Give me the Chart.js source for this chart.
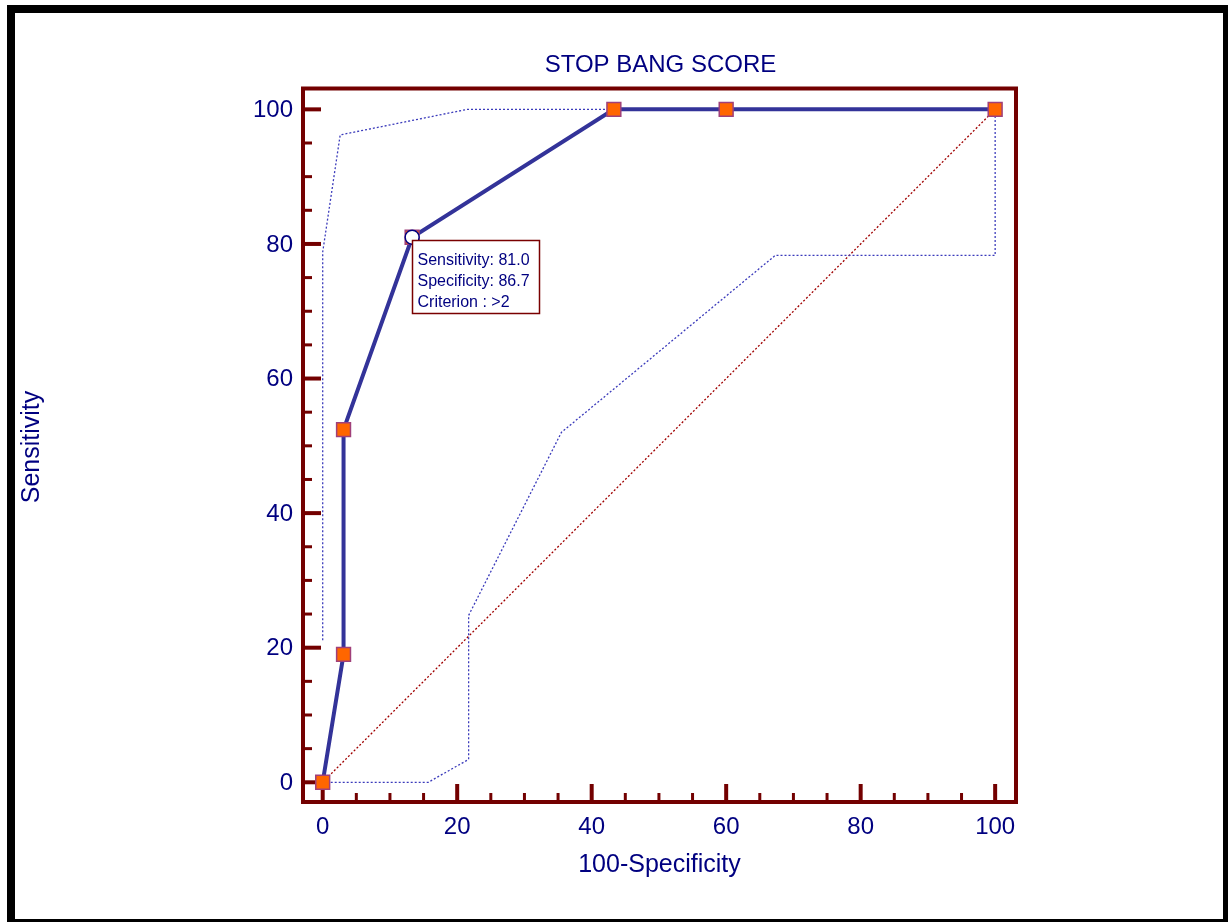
<!DOCTYPE html>
<html>
<head>
<meta charset="utf-8">
<title>STOP BANG SCORE</title>
<script src="https://cdn.jsdelivr.net/npm/chart.js@4.4.1/dist/chart.umd.min.js"></script>
<style>
  html, body { margin: 0; padding: 0; background: #fff; }
  canvas { display: block; }
</style>
</head>
<body>
<canvas id="roc" width="1228" height="922"></canvas>
<script>
// ROC curve: 100-Specificity (x) against Sensitivity (y)
const falsePositiveRate = [0, 3.1, 3.1, 13.3, 43.3, 60.0, 100];
const sensitivity = [0, 19.0, 52.4, 81.0, 100, 100, 100];

// 95% confidence bounds of the curve
const upperX = [0, 0, 2.6, 21.5, 43.3, 100];
const upperY = [21.1, 78.8, 96.2, 100, 100, 100];
const lowerX = [0, 15.7, 21.7, 21.7, 35.5, 67.3, 100, 100];
const lowerY = [0, 0, 3.4, 24.8, 52.0, 78.3, 78.3, 100];

// chance diagonal
const chanceX = [0, 100];
const chanceY = [0, 100];

// axis ticks
const tickValues = [0, 20, 40, 60, 80, 100];
const minorStep = 5;

// optimal cut-off point shown with its summary box
const optimalIndex = 3;
const optimalCriterion = '>2';

const FONT = '"Liberation Sans", Arial, Helvetica, sans-serif';
const NAVY = '#000080';
const MAROON = '#730000';

const toPoints = (xs, ys) => xs.map((v, i) => ({ x: v, y: ys[i] }));

function line(ctx, x1, y1, x2, y2) {
  ctx.beginPath();
  ctx.moveTo(x1, y1);
  ctx.lineTo(x2, y2);
  ctx.stroke();
}

const framePlugin = {
  id: 'frame',
  beforeDraw(chart) {
    const ctx = chart.ctx;
    ctx.save();
    ctx.fillStyle = '#fff';
    ctx.fillRect(0, 0, chart.width, chart.height);
    ctx.strokeStyle = '#000';
    ctx.lineWidth = 8;
    ctx.strokeRect(11, 9, 1216, 914);
    ctx.restore();
  },
  beforeDatasetsDraw(chart) {
    const { ctx, chartArea: a, scales: { x, y } } = chart;
    ctx.save();
    ctx.strokeStyle = MAROON;
    ctx.lineCap = 'butt';
    // inward tick marks
    for (let v = 0; v <= 100; v += minorStep) {
      const major = tickValues.includes(v);
      const len = major ? 18 : 9;
      ctx.lineWidth = major ? 4 : 3;
      const px = x.getPixelForValue(v);
      line(ctx, px, a.bottom, px, a.bottom - len);
      const py = y.getPixelForValue(v);
      line(ctx, a.left, py, a.left + len, py);
    }
    // plot frame
    ctx.lineWidth = 4;
    ctx.lineJoin = 'miter';
    ctx.strokeRect(a.left, a.top, a.right - a.left, a.bottom - a.top);

    // tick labels
    ctx.fillStyle = NAVY;
    ctx.font = '24px ' + FONT;
    ctx.textAlign = 'right';
    ctx.textBaseline = 'middle';
    tickValues.forEach(v => ctx.fillText(String(v), a.left - 10, y.getPixelForValue(v) + 1));
    ctx.textAlign = 'center';
    ctx.textBaseline = 'alphabetic';
    tickValues.forEach(v => ctx.fillText(String(v), x.getPixelForValue(v), a.bottom + 32));

    // titles
    const cx = (a.left + a.right) / 2;
    ctx.fillText('STOP BANG SCORE', cx + 1, 72);
    ctx.font = '25px ' + FONT;
    ctx.fillText('100-Specificity', cx, 872);
    ctx.save();
    ctx.translate(39, 447);
    ctx.rotate(-Math.PI / 2);
    ctx.fillText('Sensitivity', 0, 0);
    ctx.restore();
    ctx.restore();
  },
  afterDatasetsDraw(chart) {
    const { ctx, scales: { x, y } } = chart;
    const px = x.getPixelForValue(falsePositiveRate[optimalIndex]);
    const py = y.getPixelForValue(sensitivity[optimalIndex]);
    const left = Math.round(px) + 0.5;
    const top = Math.round(py + 3) + 0.5;
    const w = 127, h = 73;
    ctx.save();
    ctx.fillStyle = '#fff';
    ctx.fillRect(left, top, w, h);
    ctx.strokeStyle = '#7a0000';
    ctx.lineWidth = 1.5;
    ctx.strokeRect(left, top, w, h);
    ctx.fillStyle = NAVY;
    ctx.font = '16px ' + FONT;
    ctx.textAlign = 'left';
    ctx.textBaseline = 'alphabetic';
    const spec = (100 - falsePositiveRate[optimalIndex]).toFixed(1);
    ctx.fillText('Sensitivity: ' + sensitivity[optimalIndex].toFixed(1), left + 5, top + 24);
    ctx.fillText('Specificity: ' + spec, left + 5, top + 45);
    ctx.fillText('Criterion : ' + optimalCriterion, left + 5, top + 66);
    ctx.restore();
  }
};

const dotted = (color) => ({
  borderColor: color,
  borderWidth: 1.3,
  borderDash: [2, 2],
  pointRadius: 0,
  fill: false,
  tension: 0
});

new Chart(document.getElementById('roc'), {
  type: 'line',
  data: {
    datasets: [
      {
        label: 'Optimal criterion',
        data: [{ x: falsePositiveRate[optimalIndex], y: sensitivity[optimalIndex] }],
        showLine: false,
        pointStyle: 'circle',
        pointRadius: 7,
        pointBackgroundColor: '#fff',
        pointBorderColor: NAVY,
        pointBorderWidth: 1.5
      },
      {
        label: 'ROC',
        data: toPoints(falsePositiveRate, sensitivity),
        borderColor: '#333399',
        borderWidth: 4,
        tension: 0,
        pointStyle: 'rect',
        pointRadius: 9.8,
        pointBackgroundColor: '#ff6600',
        pointBorderColor: '#a0407a',
        pointBorderWidth: 1.5
      },
      Object.assign({ label: 'Upper 95% CI', data: toPoints(upperX, upperY) }, dotted('#3b3bbb')),
      Object.assign({ label: 'Lower 95% CI', data: toPoints(lowerX, lowerY) }, dotted('#3b3bbb')),
      Object.assign({ label: 'Chance', data: toPoints(chanceX, chanceY) }, dotted('#a00000'))
    ]
  },
  options: {
    responsive: false,
    animation: false,
    events: [],
    layout: { padding: { left: 303, right: 212, top: 88.5, bottom: 120 } },
    scales: {
      x: { type: 'linear', min: -2.93, max: 103.1, display: false },
      y: { type: 'linear', min: -2.93, max: 103.1, display: false }
    },
    plugins: {
      legend: { display: false },
      tooltip: { enabled: false },
      title: { display: false }
    }
  },
  plugins: [framePlugin]
});
</script>
</body>
</html>
